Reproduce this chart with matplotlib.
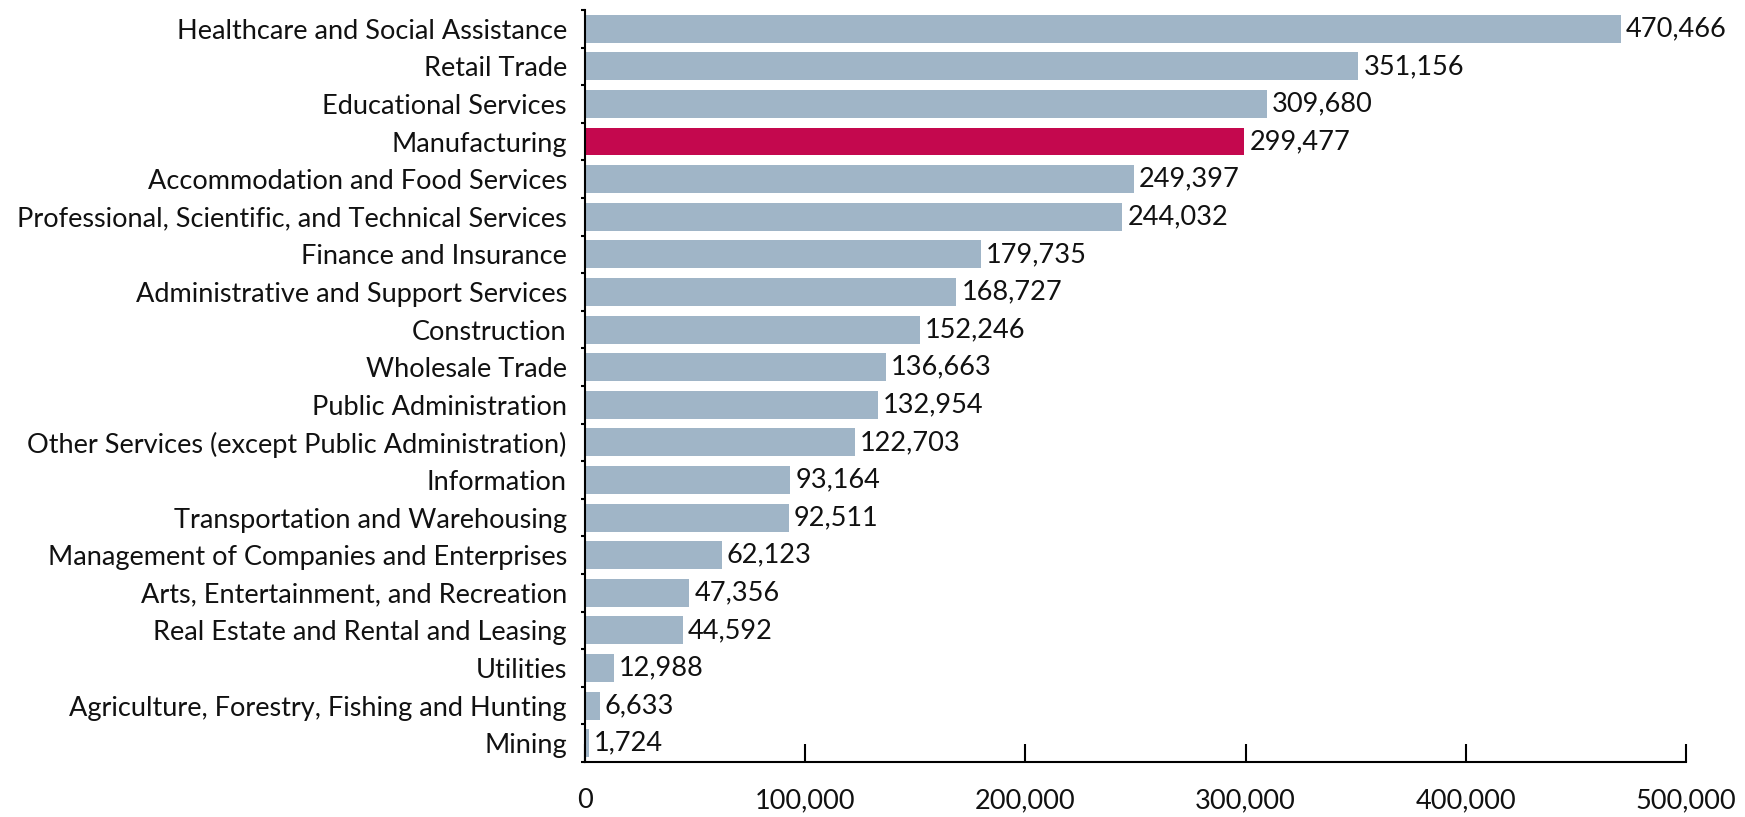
import matplotlib
matplotlib.use("Agg")
import matplotlib.pyplot as plt
from matplotlib.ticker import FuncFormatter, FixedLocator
import numpy as np

plt.rcParams['font.family'] = ['Lato', 'DejaVu Sans']

industries = [
    "Healthcare and Social Assistance",
    "Retail Trade",
    "Educational Services",
    "Manufacturing",
    "Accommodation and Food Services",
    "Professional, Scientific, and Technical Services",
    "Finance and Insurance",
    "Administrative and Support Services",
    "Construction",
    "Wholesale Trade",
    "Public Administration",
    "Other Services (except Public Administration)",
    "Information",
    "Transportation and Warehousing",
    "Management of Companies and Enterprises",
    "Arts, Entertainment, and Recreation",
    "Real Estate and Rental and Leasing",
    "Utilities",
    "Agriculture, Forestry, Fishing and Hunting",
    "Mining",
]
employment = [
    470466, 351156, 309680, 299477, 249397, 244032, 179735, 168727,
    152246, 136663, 132954, 122703, 93164, 92511, 62123, 47356,
    44592, 12988, 6633, 1724,
]
highlight = "Manufacturing"
x_ticks = [0, 100000, 200000, 300000, 400000, 500000]

base_color = "#A0B5C7"
accent_color = "#C4084E"
fs = 19.5

fig = plt.figure(figsize=(17.45, 8.17), dpi=100)
ax = fig.add_axes([0.3352, 0.0673, 0.6310, 0.9205])

n = len(industries)
y = np.arange(n)
colors = [accent_color if name == highlight else base_color for name in industries]
ax.barh(y, employment, height=0.74, color=colors, zorder=2)

for yi, v in zip(y, employment):
    ax.text(v + 2300, yi, f"{v:,}", va="center", ha="left", fontsize=fs, color="#111111")

ax.set_ylim(n - 0.5, -0.5)
ax.set_xlim(0, 500000)
ax.set_yticks(y)
ax.set_yticklabels(industries, fontsize=fs, color="#111111")
ax.yaxis.set_minor_locator(FixedLocator(np.arange(-0.5, n, 1.0)))
ax.tick_params(axis="y", which="major", length=0, pad=13)
ax.tick_params(axis="y", which="minor", length=3, width=1.5, direction="out", color="black")

ax.set_xticks(x_ticks)
ax.xaxis.set_major_formatter(FuncFormatter(lambda v, p: f"{int(v):,}"))
ax.tick_params(axis="x", which="major", direction="in", length=13, width=1.5,
               pad=19, labelsize=fs, labelcolor="#111111")

for side in ("top", "right"):
    ax.spines[side].set_visible(False)
for side in ("left", "bottom"):
    ax.spines[side].set_linewidth(1.5)
    ax.spines[side].set_color("black")

fig.savefig("out.png", dpi=100)
